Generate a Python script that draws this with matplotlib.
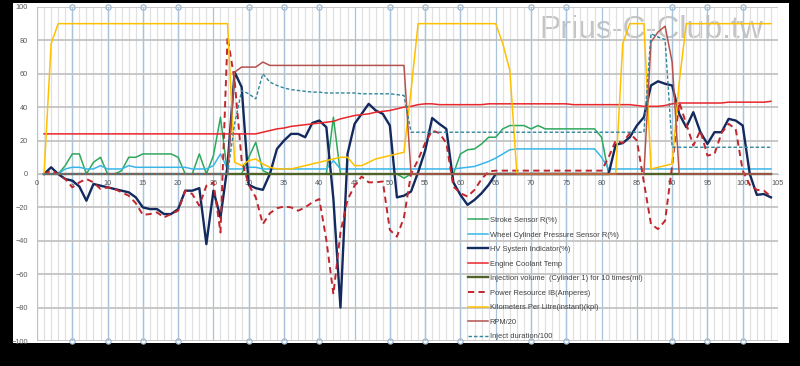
import numpy as np
import matplotlib
matplotlib.use("Agg")
import matplotlib.pyplot as plt
from matplotlib.patches import Rectangle

plt.rcParams['font.family'] = ['Liberation Sans', 'DejaVu Sans']

# sample index (1..104)
x = np.arange(1, 105)

stroke = [0, 0, 0, 5, 12, 12, 0, 7, 10, 0,
          0, 2, 10, 10, 12, 12, 12, 12, 12, 10,
          0, 0, 12, 0, 11, 34, 0, 0, 0, 10,
          19, 2, 0, 0, 0, 0, 0, 0, 0, 0,
          0, 34, 0, 0, 0, 0, 0, 0, 0, 0,
          0, -2.5, 0, 0, 0, 0, 0, 0, 0, 12,
          14.5, 15, 18, 22, 22, 27, 29, 29, 29, 27,
          29, 27, 27, 27, 27, 27, 27, 27, 27, 22,
          0, 0, 0, 0, 0, 0, 0, 0, 0, 0,
          0, 0, 0, 0, 0, 0, 0, 0, 0, 0,
          0, 0, 0, 0]

wheel = [0, 0, 0, 3, 4, 4, 3, 3, 5, 3,
         3, 3, 5, 4, 4, 4, 4, 4, 4, 4,
         4, 3, 3, 3, 5, 12, 3, 3, 3, 4,
         4, 3, 3, 3, 3, 3, 3, 3, 3, 3,
         3, 8, 3, 3, 3, 3, 3, 3, 3, 3,
         3, 3, 3, 3, 3, 3, 3, 3, 3, 3.5,
         4, 4.5, 6, 7.5, 9.5, 12, 14.5, 15, 15, 15,
         15, 15, 15, 15, 15, 15, 15, 15, 15, 10,
         3, 3, 3, 3, 3, 3, 3, 3, 3, 3,
         3, 3, 3, 3, 3, 3, 3, 3, 3, 3,
         3, 3, 3, 3]

hv = [0, 4, 0, -3, -4, -7.5, -16, -6, -7, -8,
      -9, -10, -11, -14, -20, -21, -21, -24, -24, -21,
      -10, -10, -8.5, -42, -10, -26, 5, 61, 52, -6.5,
      -8.5, -9.5, 0, 15, 20, 24, 24, 22, 30.5, 32,
      28, -15, -80, 12, 30, 36, 42, 38, 36, 29,
      -14, -13, -10.5, 1, 14, 33.5, 30, 27, -5, -12.5,
      -18.5, -15.5, -11.5, -6.5, 0, 0, 0, 0, 0, 0,
      0, 0, 0, 0, 0, 0, 0, 0, 0, 0,
      0, 17.5, 18.5, 22, 29, 34, 53, 55.5, 54, 53,
      36, 28, 37, 25, 18, 25, 25, 33, 32, 29,
      0, -12.5, -12, -14]

coolant = [24, 24, 24, 24, 24, 24, 24, 24, 24, 24,
           24, 24, 24, 24, 24, 24, 24, 24, 24, 24,
           24, 24, 24, 24, 24, 24, 24, 24, 24, 24,
           24, 25, 26, 27, 27.5, 28.5, 29, 29.5, 30, 30.5,
           31, 31.5, 33, 34, 35, 35.5, 36, 37, 37.5, 38,
           39, 40, 40.5, 41.5, 42, 42, 41.5, 41.5, 41.5, 41.5,
           41.5, 41.5, 41.5, 42, 42, 42, 42, 42, 42, 42,
           42, 42, 42, 42, 42, 41.5, 41.5, 41.5, 41.5, 41.5,
           41.5, 41.5, 41.5, 41.5, 41, 40.5, 40.5, 40.5, 41, 42,
           42.5, 42.5, 42.5, 42.5, 42.5, 42.5, 42.5, 43, 43, 43,
           43, 43, 43, 43.5]

injection = [0, 0, 0, 0, 0, 0, 0, 0, 0, 0,
             0, 0, 0, 0, 0, 0, 0, 0, 0, 0,
             0, 0, 0, 0, 0, 0, 0, 0, 0, 0,
             0, 0, 0, 0, 0, 0, 0, 0, 0, 0,
             0, 0, 0, 0, 0, 0, 0, 0, 0, 0,
             0, 0, 0, 0, 0, 0, 0, 0, 0, 0,
             0, 0, 0, 0, 0, 0, 0, 0, 0, 0,
             0, 0, 0, 0, 0, 0, 0, 0, 0, 0,
             0, 0, 0, 0, 0, 0, 0, 0, 0, 0,
             0, 0, 0, 0, 0, 0, 0, 0, 0, 0,
             0, 0, 0, 0]

power = [0, 2, 0, -3, -8, -5, -3, -5, -9, -8,
         -9, -11, -13, -17.5, -24.5, -24, -23, -26, -24, -22,
         -10, -12, -19, -7, -5, -35, 82, 56, 8, -6.5,
         -14, -30, -23.5, -20.5, -19.5, -20, -22, -20, -17, -15,
         -39.5, -72, -35, -15.5, -7, -1.5, -5, -5, -4.5, -33.5,
         -37.5, -26, 0, 8.5, 18.5, 26, 24.5, 18.5, -7.5, -11.5,
         -13.5, -9.5, -3, 1.5, 2, 2, 2, 2, 2, 2,
         2, 2, 2, 2, 2, 2, 2, 2, 2, 2,
         10, 20, 18.5, 24.5, 20, -5, -30, -33, -28, 5,
         43, 30, 17, 26, 11, 12, 24.5, 30, 27, 2,
         -6.5, -9.5, -10, -13.5]

kpl = [0, 78, 90, 90, 90, 90, 90, 90, 90, 90,
       90, 90, 90, 90, 90, 90, 90, 90, 90, 90,
       90, 90, 90, 90, 90, 90, 90, 7, 5, 8,
       9, 6, 4, 3, 3, 3, 4, 5, 6, 7,
       8, 9, 10, 10, 5, 5, 7, 9, 10, 11,
       12, 13, 50, 90, 90, 90, 90, 90, 90, 90,
       90, 90, 90, 90, 90, 78, 62, 0, 0, 0,
       0, 0, 0, 0, 0, 0, 0, 0, 0, 0,
       0, 0, 78, 90, 90, 90, 3, 4, 5, 6,
       55, 90, 90, 90, 90, 90, 90, 90, 90, 90,
       90, 90, 90, 90]

rpm = [0, 0, 0, 0, 0, 0, 0, 0, 0, 0,
       0, 0, 0, 0, 0, 0, 0, 0, 0, 0,
       0, 0, 0, 0, 0, 0, 0, 61, 64, 64,
       64, 67, 65, 65, 65, 65, 65, 65, 65, 65,
       65, 65, 65, 65, 65, 65, 65, 65, 65, 65,
       65, 65, 0, 0, 0, 0, 0, 0, 0, 0,
       0, 0, 0, 0, 0, 0, 0, 0, 0, 0,
       0, 0, 0, 0, 0, 0, 0, 0, 0, 0,
       0, 0, 0, 0, 0, 0, 79, 85, 88.5, 67,
       0, 0, 0, 0, 0, 0, 0, 0, 0, 0,
       0, 0, 0, 0]

inject = [0, 0, 0, 0, 0, 0, 0, 0, 0, 0,
          0, 0, 0, 0, 0, 0, 0, 0, 0, 0,
          0, 0, 0, 0, 0, 0, 0, 30, 50, 48,
          45, 60, 55, 53, 51.5, 50.5, 50, 49.5, 49, 49,
          48.5, 48.5, 48.5, 48.5, 48.5, 48, 48, 48, 48, 48,
          47.5, 47, 25, 25, 25, 25, 25, 25, 25, 25,
          25, 25, 25, 25, 25, 25, 25, 25, 25, 25,
          25, 25, 25, 25, 25, 25, 25, 25, 25, 25,
          25, 25, 25, 25, 25, 25, 84, 82, 80.5, 16,
          16, 16, 16, 16, 16, 16, 16, 16, 16, 16,
          16, 16, 16, 16]

labels = ["Stroke Sensor R(%)",
          "Wheel Cylinder Pressure Sensor R(%)",
          "HV System Indicator(%)",
          "Engine Coolant Temp",
          "Injection volume  (Cylinder 1) for 10 times(ml)",
          "Power Resource IB(Amperes)",
          "Kilometers Per Litre(instant)(kpl)",
          "RPM/20",
          "Inject duration/100"]

fig = plt.figure(figsize=(8, 3.66), dpi=100, facecolor='black')
fig.patches.append(Rectangle((0.01625, 0.063), 0.97, 0.929, transform=fig.transFigure,
                             facecolor='white', edgecolor='none', zorder=-10))
ax = fig.add_axes([0.04625, 0.0683, 0.92625, 0.9127])
ax.set_facecolor('none')
ax.set_xlim(0, 105)
ax.set_ylim(-100, 100)

# grid
ax.set_xticks(np.arange(0, 106, 5))
ax.set_xticks(np.arange(0, 106, 1), minor=True)
ax.set_yticks(np.arange(-100, 101, 20))
ax.grid(which='minor', axis='x', color='#e0e0e0', lw=0.9, zorder=0)
ax.grid(which='major', axis='x', color='#a9c3da', lw=0.9, zorder=0.5)
ax.grid(which='major', axis='y', color='#bfbfbf', lw=1.2, zorder=0.5)

# blue drop lines with round caps
for xv in [5, 10, 15, 20, 30, 35, 40, 50, 55, 60, 70, 75, 90, 95, 100]:
    ax.plot([xv, xv], [-100, 100], color='#9dbad5', lw=0.9, marker='o', ms=3.8,
            mfc='white', mec='#8fb0cf', mew=0.8, clip_on=False, zorder=0.6)

ax.text(71.2, 86, "Prius-C-Club.tw", fontsize=23, color='#c4c4c4', va='center',
        ha='left', zorder=0.7)

ax.plot(x, stroke, color='#2ea85c', lw=1.1, label=labels[0], zorder=2)
ax.plot(x, wheel, color='#38b6e8', lw=1.1, label=labels[1], zorder=3)
ax.plot(x, hv, color='#132a5e', lw=1.7, label=labels[2], zorder=4)
ax.plot(x, coolant, color='#e8262b', lw=1.1, label=labels[3], zorder=5)
ax.plot(x, injection, color='#4f6228', lw=1.7, label=labels[4], zorder=6)
ax.plot(x, power, color='#c0262d', lw=1.4, ls=(0, (3.2, 2.2)), label=labels[5], zorder=7)
ax.plot(x, kpl, color='#ffc000', lw=1.1, label=labels[6], zorder=8)
ax.plot(x, rpm, color='#b5524e', lw=1.1, label=labels[7], zorder=9)
ax.plot(x, inject, color='#31859c', lw=1.0, ls=(0, (2.5, 1.5)), label=labels[8], zorder=10)

for s in ['top', 'right', 'left']:
    ax.spines[s].set_visible(False)
ax.spines['bottom'].set_position(('data', 0))
ax.spines['bottom'].set_color('#bfbfbf')
ax.tick_params(which='both', length=0)
ax.tick_params(axis='x', pad=4.5, labelsize=5.3, labelcolor='#595959')
ax.tick_params(axis='y', pad=6.5, labelsize=5.3, labelcolor='#595959')

ax.legend(loc='upper left', bbox_to_anchor=(464 / 800, 1 - 213 / 366),
          bbox_transform=fig.transFigure, frameon=False, fontsize=5.4,
          handlelength=2.7, handletextpad=0.25, borderpad=0, labelspacing=0.97,
          labelcolor='#404040')

plt.savefig("out.png", dpi=100, facecolor='black')
